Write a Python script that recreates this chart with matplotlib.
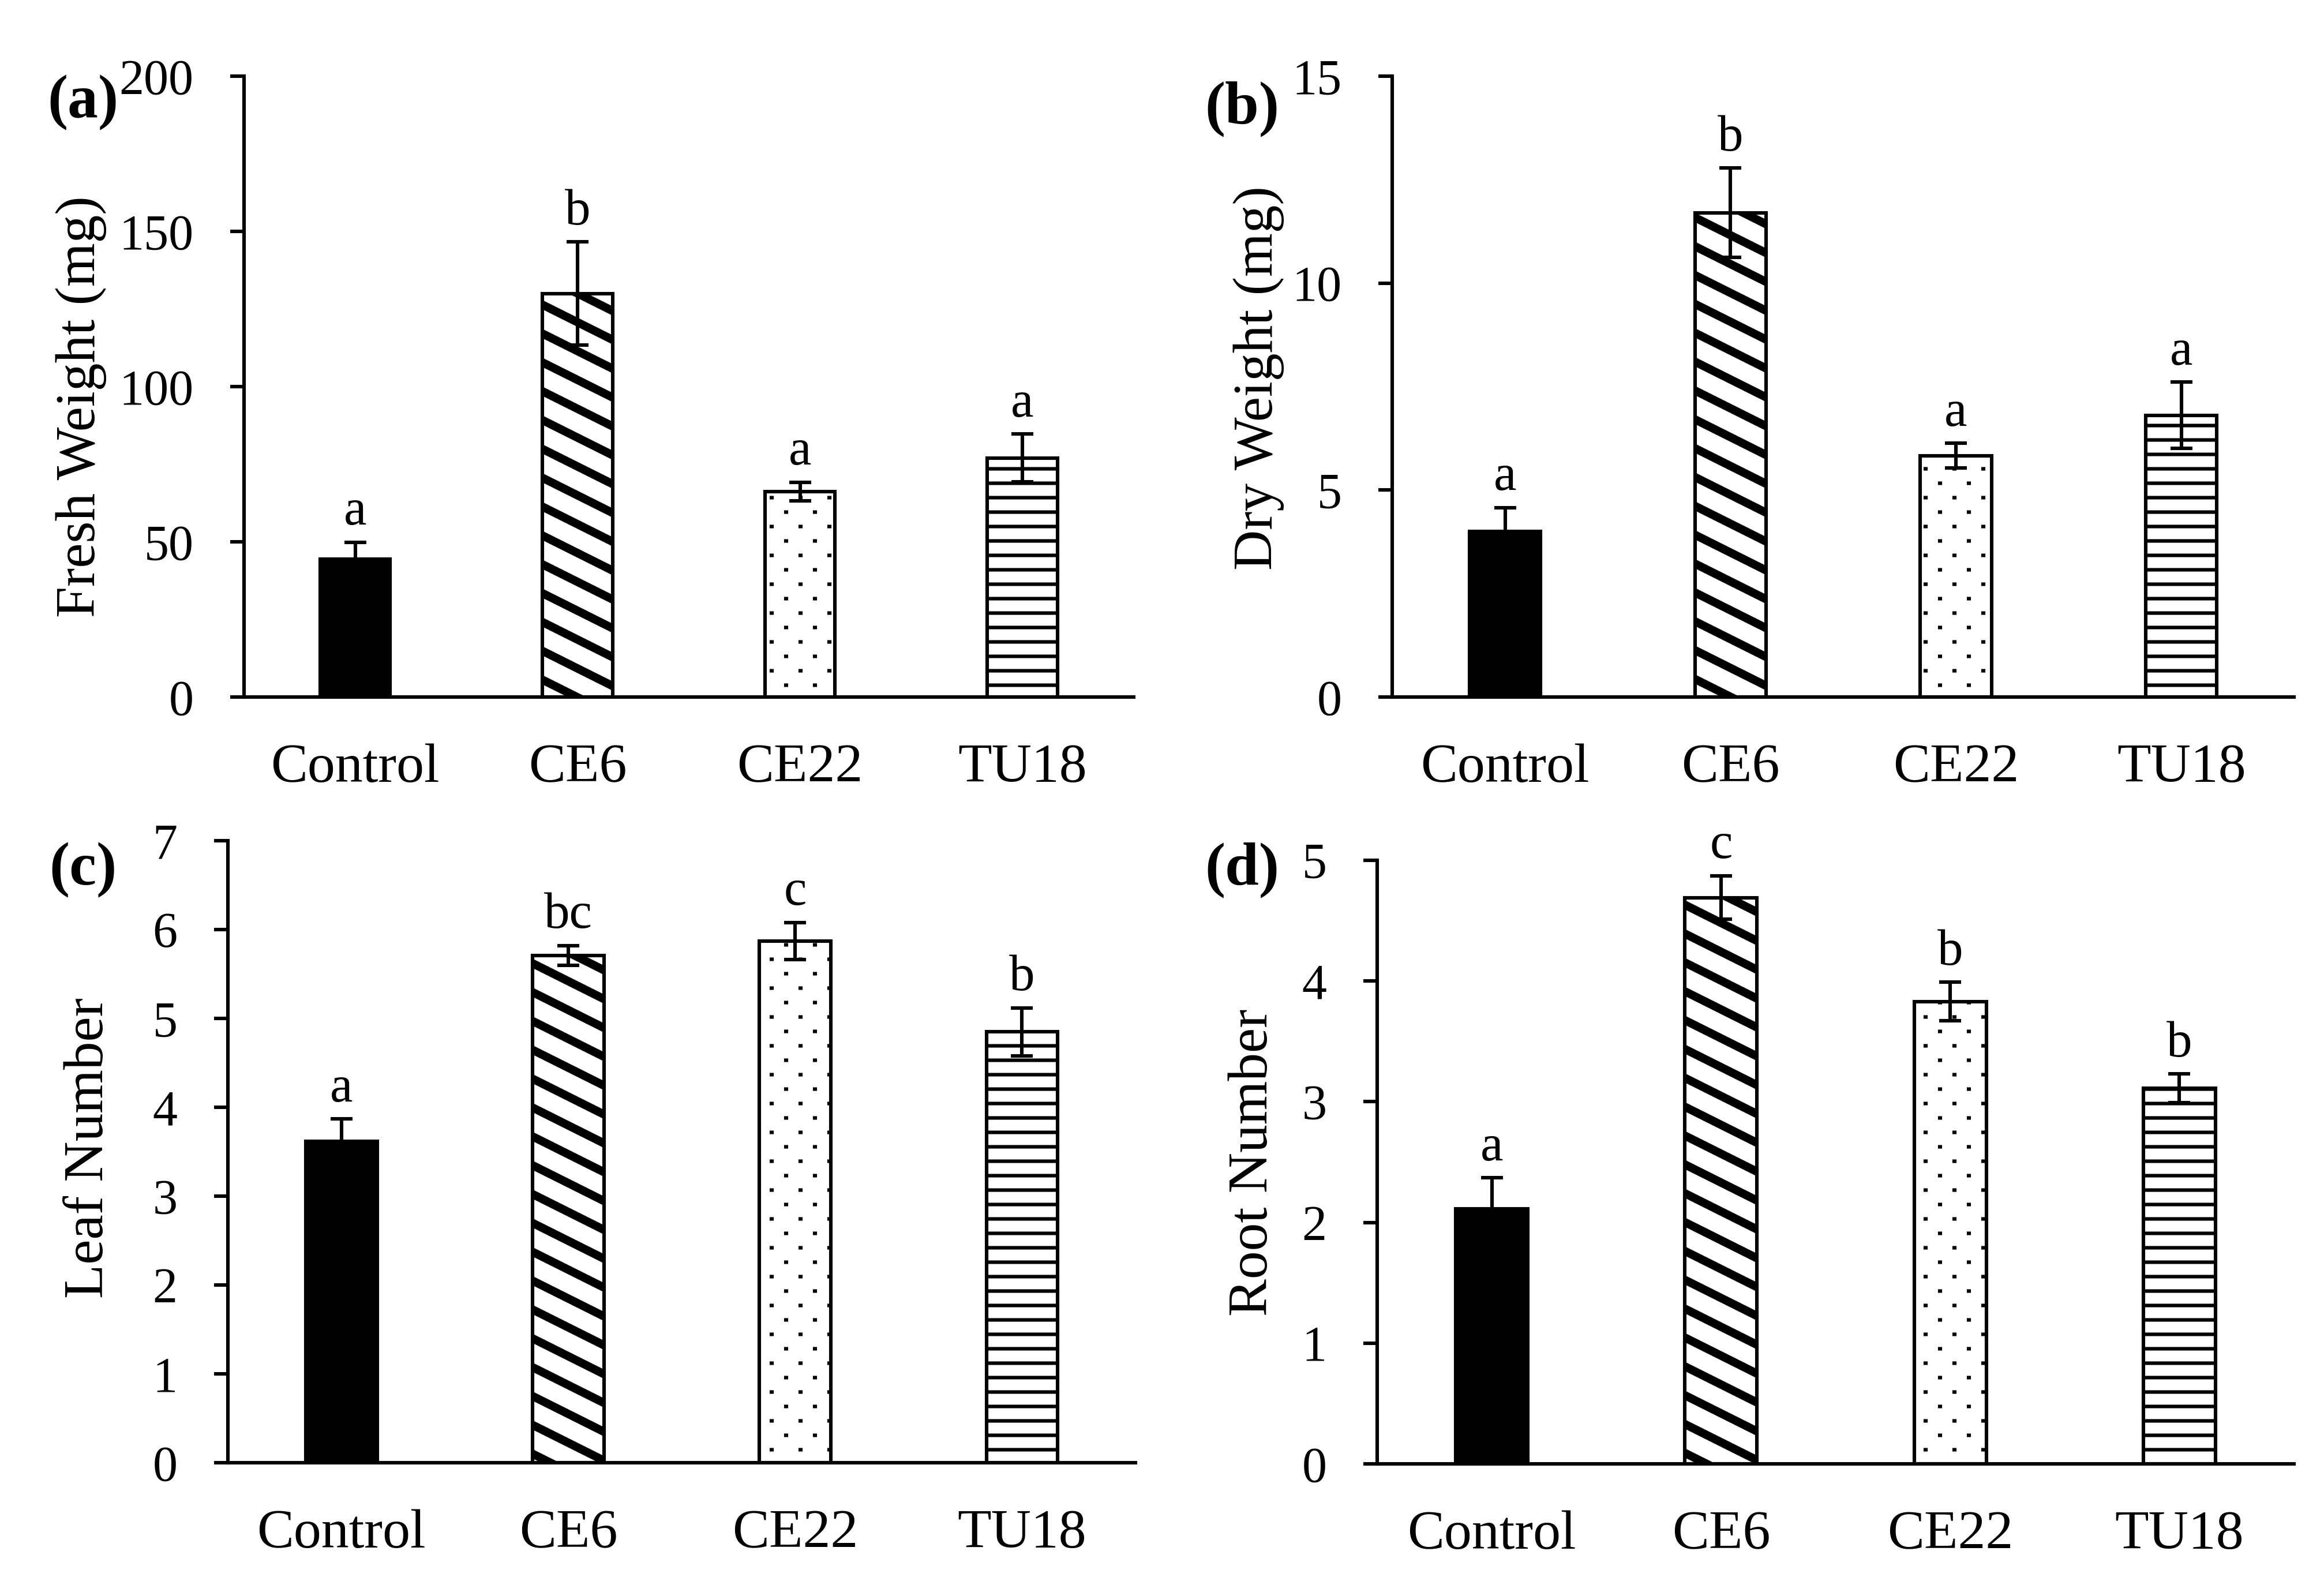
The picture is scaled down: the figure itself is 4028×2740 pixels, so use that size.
"""
Four-panel bar chart: fresh/dry weight, leaf and root number
for Control and the three inoculation treatments.
"""

import numpy as np
import matplotlib
matplotlib.use("Agg")
import matplotlib.pyplot as plt
import matplotlib.hatch as mhatch
from matplotlib.path import Path

# ─────────────────────────────────────────────────────────────
# Data
# ─────────────────────────────────────────────────────────────
categories = ["Control", "CE6", "CE22", "TU18"]

fresh_mean = [44.4, 130.0, 66.2, 77.0]
fresh_err = [5.5, 16.6, 3.0, 7.7]
fresh_letters = ["a", "b", "a", "a"]

dry_mean = [4.0, 11.7, 5.83, 6.81]
dry_err = [0.58, 1.08, 0.30, 0.80]
dry_letters = ["a", "b", "a", "a"]

leaf_mean = [3.62, 5.71, 5.87, 4.85]
leaf_err = [0.25, 0.11, 0.21, 0.27]
leaf_letters = ["a", "bc", "c", "b"]

root_mean = [2.11, 4.69, 3.83, 3.11]
root_err = [0.26, 0.18, 0.16, 0.12]
root_letters = ["a", "c", "b", "b"]

FILLS = ["black", "white", "white", "white"]
HATCHES = [None, "\\", ".", "-"]


# ─────────────────────────────────────────────────────────────
# Excel-like fill patterns (hatch tile = 1 inch = 100 px here)
# ─────────────────────────────────────────────────────────────

def _poly(vertices, codes, i, pts):
    vertices[i:i + 5] = pts + [pts[0]]
    codes[i] = Path.MOVETO
    codes[i + 1:i + 4] = Path.LINETO
    codes[i + 4] = Path.CLOSEPOLY


class WideDownDiagonal(mhatch.HatchPatternBase):
    def __init__(self, hatch, density):
        self.num = 4 if "\\" in hatch else 0
        self.num_vertices = self.num * 5

    def set_vertices_and_codes(self, vertices, codes):
        t = 0.16
        for k in range(self.num):
            c = 0.5 * (k + 1)
            _poly(vertices, codes, 5 * k,
                  [(0, c), (1, c - 0.5), (1, c - 0.5 - t), (0, c - t)])


class HorizontalBands(mhatch.HatchPatternBase):
    def __init__(self, hatch, density):
        self.num = 4 if "-" in hatch else 0
        self.num_vertices = self.num * 5

    def set_vertices_and_codes(self, vertices, codes):
        h = 0.03
        for k in range(self.num):
            y = 0.25 * k + 0.125
            _poly(vertices, codes, 5 * k,
                  [(0, y - h), (1, y - h), (1, y + h), (0, y + h)])


class SparseDots(mhatch.HatchPatternBase):
    def __init__(self, hatch, density):
        self.num = 8 if "." in hatch else 0
        self.num_vertices = self.num * 5

    def set_vertices_and_codes(self, vertices, codes):
        w, h = 0.035, 0.03
        k = 0
        for r in range(4):
            y = 0.25 * r + 0.125
            for x in ((0.125, 0.625) if r % 2 == 0 else (0.375, 0.875)):
                _poly(vertices, codes, 5 * k,
                      [(x - w, y - h), (x + w, y - h), (x + w, y + h), (x - w, y + h)])
                k += 1


mhatch._hatch_types[:] = [WideDownDiagonal, HorizontalBands, SparseDots]

plt.rcParams.update({
    "font.family": "Liberation Serif",
    "hatch.linewidth": 0.1,
    "hatch.color": "black",
})

FONT_TICK = 62
FONT_CAT = 69
FONT_LAB = 70
FONT_LETTER = 64
LW = 4.4


def draw_panel(ax, means, errs, letters, top, ticks, ylabel, label_xy):
    x = np.arange(len(categories))
    for xi, m, fc, hatch in zip(x, means, FILLS, HATCHES):
        ax.bar(xi, m, width=0.315, color=fc, edgecolor="black",
               linewidth=LW, hatch=hatch, zorder=2)
    ax.errorbar(x, means, yerr=errs, fmt="none", ecolor="black",
                elinewidth=LW, capsize=13.5, capthick=LW, zorder=3)
    for xi, m, e, s in zip(x, means, errs, letters):
        ax.annotate(s, (xi, m + e), xytext=(0, 22), textcoords="offset points",
                    ha="center", va="baseline", fontsize=FONT_LETTER)

    ax.set_xlim(-0.5, len(categories) - 0.5)
    ax.set_ylim(0, top)
    ax.set_yticks(ticks)
    ax.set_xticks(x)
    ax.set_xticklabels(categories)
    ax.set_ylabel(ylabel, fontsize=FONT_LAB, va="center")
    ax.yaxis.set_label_coords(*label_xy)

    ax.spines["top"].set_visible(False)
    ax.spines["right"].set_visible(False)
    for side in ("left", "bottom"):
        ax.spines[side].set_linewidth(LW)
        ax.spines[side].set_capstyle("projecting")
    ax.tick_params(axis="y", direction="out", length=17, width=LW,
                   pad=46, labelsize=FONT_TICK)
    ax.tick_params(axis="x", length=0, pad=58, labelsize=FONT_CAT)


fig = plt.figure(figsize=(40.28, 27.40), dpi=100)

ax_a = fig.add_axes([0.1050, 0.5591, 0.3828, 0.3927])
ax_b = fig.add_axes([0.5991, 0.5591, 0.3880, 0.3927])
ax_c = fig.add_axes([0.0981, 0.0748, 0.3905, 0.3934])
ax_d = fig.add_axes([0.5926, 0.0741, 0.3945, 0.3818])

draw_panel(ax_a, fresh_mean, fresh_err, fresh_letters, 200, [0, 50, 100, 150, 200],
           "Fresh Weight (mg)", (-0.183, 0.468))
draw_panel(ax_b, dry_mean, dry_err, dry_letters, 15, [0, 5, 10, 15],
           "Dry Weight (mg)", (-0.148, 0.514))
draw_panel(ax_c, leaf_mean, leaf_err, leaf_letters, 7, range(8),
           "Leaf Number", (-0.153, 0.506))
draw_panel(ax_d, root_mean, root_err, root_letters, 5, range(6),
           "Root Number", (-0.135, 0.499))

for label, (fx, fy) in zip(["(a)", "(b)", "(c)", "(d)"],
                           [(0.0357, 0.935), (0.5345, 0.931),
                            (0.0357, 0.4496), (0.5345, 0.4496)]):
    fig.text(fx, fy, label, fontsize=76, fontweight="bold",
             ha="center", va="center")

fig.savefig("out.png", dpi=100)
plt.close(fig)
